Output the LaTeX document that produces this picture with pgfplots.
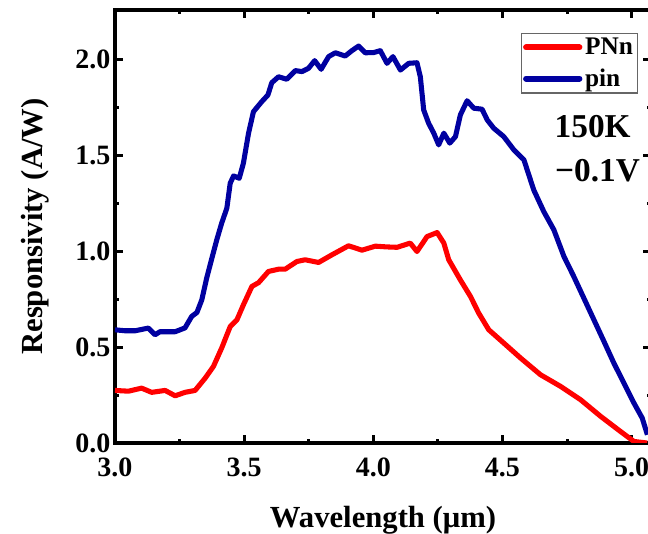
\documentclass[border=0pt]{standalone}
\usepackage{fontspec}
\setmainfont{Liberation Serif}
\usepackage{pgfplots}
\pgfplotsset{compat=1.18}
\definecolor{cred}{RGB}{255,0,0}
\definecolor{cblue}{RGB}{0,0,160}
\begin{document}
\begin{tikzpicture}
\useasboundingbox (-86.25pt,-68.25pt) rectangle (399.75pt,332.25pt);
\begin{axis}[
  scale only axis,
  width=402pt, height=324.75pt,
  xmin=3, xmax=5.075, ymin=0, ymax=2.257,
  xtick={3.0,3.5,4.0,4.5,5.0},
  ytick={0,0.5,1.0,1.5,2.0},
  minor x tick num=1, minor y tick num=1,
  tick align=inside,
  xtick pos=both, ytick pos=both,
  major tick length=6pt, minor tick length=3pt,
  every tick/.style={line width=2.2pt, black},
  axis line style={line width=3.2pt},
  /pgf/number format/assume math mode=true,
  /pgf/number format/.cd, fixed, fixed zerofill, precision=1, /pgfplots/.cd,
  tick label style={font=\fontsize{21}{21}\selectfont\bfseries},
  xticklabel style={yshift=-8pt},
  xlabel={Wavelength (μm)},
  ylabel={Responsivity (A/W)},
  label style={font=\fontsize{23}{23}\selectfont\bfseries},
  xlabel style={yshift=-15pt},
  ylabel style={yshift=13pt},
  legend style={at={(0.976,0.947)}, anchor=north east, draw=black!60, line width=0.8pt,
     font=\fontsize{19}{19}\selectfont\bfseries, inner sep=1.5pt, row sep=5pt},
  legend cell align=left,
  legend image code/.code={\draw[line width=4.5pt, line cap=round] (0pt,0pt) -- (40pt,0pt);},
  clip=true,
]
\addplot[cred, line width=3.8pt, line join=round] table {
3.000 0.274
3.052 0.270
3.103 0.286
3.142 0.264
3.194 0.274
3.233 0.246
3.271 0.264
3.310 0.274
3.349 0.338
3.381 0.399
3.413 0.495
3.446 0.607
3.472 0.642
3.497 0.720
3.530 0.816
3.556 0.836
3.594 0.894
3.633 0.906
3.659 0.906
3.704 0.946
3.736 0.955
3.788 0.941
3.840 0.981
3.904 1.028
3.956 1.005
4.008 1.026
4.053 1.022
4.092 1.020
4.143 1.042
4.169 0.998
4.208 1.076
4.247 1.097
4.273 1.042
4.292 0.955
4.337 0.850
4.376 0.764
4.408 0.677
4.447 0.590
4.505 0.521
4.570 0.443
4.647 0.356
4.725 0.295
4.802 0.226
4.880 0.139
4.957 0.060
5.009 0.008
5.060 0.000
};
\addlegendentry{PNn}
\addplot[cblue, line width=3.8pt, line join=round] table {
3.000 0.590
3.039 0.585
3.078 0.585
3.129 0.599
3.155 0.564
3.174 0.580
3.233 0.580
3.271 0.600
3.297 0.660
3.317 0.680
3.336 0.746
3.355 0.860
3.375 0.963
3.394 1.059
3.413 1.146
3.433 1.224
3.446 1.354
3.459 1.392
3.481 1.380
3.497 1.458
3.517 1.615
3.536 1.727
3.568 1.779
3.592 1.814
3.607 1.878
3.633 1.909
3.665 1.896
3.698 1.941
3.724 1.936
3.749 1.953
3.773 1.993
3.798 1.948
3.827 2.014
3.853 2.034
3.891 2.017
3.917 2.045
3.943 2.069
3.969 2.034
4.001 2.035
4.027 2.045
4.053 1.979
4.076 2.014
4.105 1.944
4.137 1.979
4.169 1.982
4.182 1.909
4.195 1.736
4.214 1.667
4.234 1.615
4.253 1.554
4.273 1.615
4.296 1.563
4.318 1.597
4.337 1.710
4.363 1.784
4.389 1.745
4.421 1.740
4.441 1.684
4.466 1.641
4.505 1.597
4.544 1.528
4.583 1.476
4.621 1.319
4.660 1.206
4.699 1.111
4.738 0.972
4.776 0.868
4.815 0.755
4.854 0.642
4.893 0.529
4.931 0.417
4.970 0.3125
5.009 0.208
5.041 0.130
5.061 0.043
};
\addlegendentry{pin}
\node[font=\fontsize{25}{25}\selectfont\bfseries] at (axis cs:4.849,1.647) {150K};
\node[font=\fontsize{25}{25}\selectfont\bfseries] at (axis cs:4.868,1.418) {−0.1V};
\end{axis}
\end{tikzpicture}
\end{document}
